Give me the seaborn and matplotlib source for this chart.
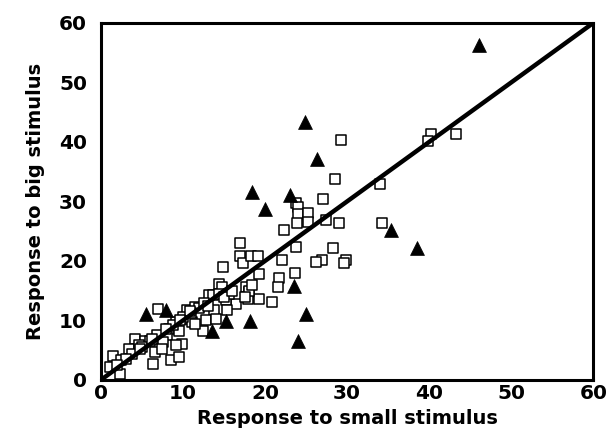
import matplotlib
matplotlib.use("Agg")
import matplotlib.pyplot as plt
import seaborn as sns
import pandas as pd

# Open squares
sq_x = [40.2, 39.8, 43.2, 29.2, 28.5, 34.0, 27.0, 23.8, 24.0, 24.0, 25.2, 25.2, 23.9, 27.4,
        29.0, 34.2, 22.3, 16.9, 23.8, 28.3, 16.9, 17.3, 18.3, 19.1, 22.1, 26.9, 26.2, 29.9,
        29.6, 14.9, 19.3, 23.7, 21.7, 21.6, 14.4, 14.8, 13.2, 17.7, 18.1, 17.9, 19.3, 20.9,
        16.4, 15.2, 15.4, 13.8, 10.5, 11.5, 7.0, 10.3, 11.1, 12.8, 12.4, 9.1, 8.3, 8.1,
        9.9, 6.8, 6.6, 6.4, 8.5, 9.5, 4.2, 5.4, 3.4, 1.5, 2.5, 1.1, 2.3, 7.6, 9.1, 7.4,
        4.6, 3.8, 9.5, 11.5, 14.0, 13.6, 14.4, 15.6, 18.0, 18.4, 17.5, 12.0, 11.0, 10.0,
        8.8, 7.9, 6.0, 5.0, 3.0, 2.0, 12.5, 13.0, 15.0, 16.0, 10.8, 9.6, 6.2, 4.8]
sq_y = [41.3, 40.2, 41.4, 40.3, 33.8, 32.9, 30.4, 29.8, 29.0, 27.9, 28.0, 26.6, 26.3, 26.8,
        26.4, 26.4, 25.2, 23.0, 22.4, 22.2, 20.9, 19.6, 20.9, 20.9, 20.2, 20.2, 19.8, 20.2,
        19.6, 18.9, 17.8, 17.9, 17.1, 15.6, 16.1, 15.6, 14.2, 15.6, 14.7, 13.6, 13.6, 13.1,
        12.7, 13.4, 11.7, 11.7, 11.7, 12.2, 11.9, 10.3, 9.7, 10.0, 8.3, 9.7, 8.6, 7.5,
        6.1, 7.5, 4.7, 2.6, 3.3, 3.8, 6.9, 6.6, 5.2, 4.1, 3.3, 2.2, 1.0, 6.4, 5.8, 5.2,
        5.8, 4.4, 8.3, 9.4, 10.3, 14.2, 14.5, 14.5, 15.0, 16.0, 14.0, 12.0, 11.2, 10.5,
        9.2, 8.5, 6.5, 5.5, 3.5, 2.5, 13.0, 12.4, 14.0, 15.0, 11.5, 10.0, 6.8, 5.2]

# Filled triangles
tri_x = [46.1, 24.9, 26.3, 18.4, 23.0, 20.0, 35.3, 38.5, 23.5, 25.0, 24.0, 18.2, 15.2, 13.5, 5.5, 7.9]
tri_y = [56.3, 43.3, 37.1, 31.5, 31.0, 28.7, 25.2, 22.2, 15.7, 11.1, 6.5, 9.9, 9.9, 8.2, 11.1, 11.7]

line_x = [0, 60]
line_y = [0, 60]
ticks = [0, 10, 20, 30, 40, 50, 60]

sns.set_style("white")
plt.rcParams['font.family'] = ['DejaVu Sans']
plt.rcParams['text.color'] = 'black'
plt.rcParams['axes.labelcolor'] = 'black'
plt.rcParams['xtick.color'] = 'black'
plt.rcParams['ytick.color'] = 'black'

fig = plt.figure(figsize=(6.08, 4.48), dpi=100)
ax = fig.add_axes([0.166, 0.152, 0.810, 0.797])

sq = pd.DataFrame({"x": sq_x, "y": sq_y})
tr = pd.DataFrame({"x": tri_x, "y": tri_y})

sns.lineplot(x=line_x, y=line_y, ax=ax, color="black", linewidth=3.2, zorder=3)
sns.scatterplot(data=sq, x="x", y="y", ax=ax, marker="s", s=62,
                facecolor="white", edgecolor="black", linewidth=1.1, zorder=2)
sns.scatterplot(data=tr, x="x", y="y", ax=ax, marker="^", s=100,
                color="black", edgecolor="black", linewidth=0.5, zorder=4)

ax.set_xlim(0, 60)
ax.set_ylim(0, 60)
ax.set_xticks(ticks)
ax.set_yticks(ticks)
ax.set_xticklabels([str(t) for t in ticks], fontsize=14.5, fontweight="bold")
ax.set_yticklabels([str(t) for t in ticks], fontsize=14.5, fontweight="bold")
ax.tick_params(direction="in", length=5, width=2)
ax.tick_params(axis="y", pad=10)
ax.tick_params(axis="x", pad=3)
for sp in ax.spines.values():
    sp.set_visible(True)
    sp.set_linewidth(2.2)
    sp.set_color("black")
ax.set_xlabel("Response to small stimulus", fontsize=14, fontweight="bold", labelpad=4)
ax.set_ylabel("Response to big stimulus", fontsize=14, fontweight="bold", labelpad=10)

fig.savefig("out.png", dpi=100)
